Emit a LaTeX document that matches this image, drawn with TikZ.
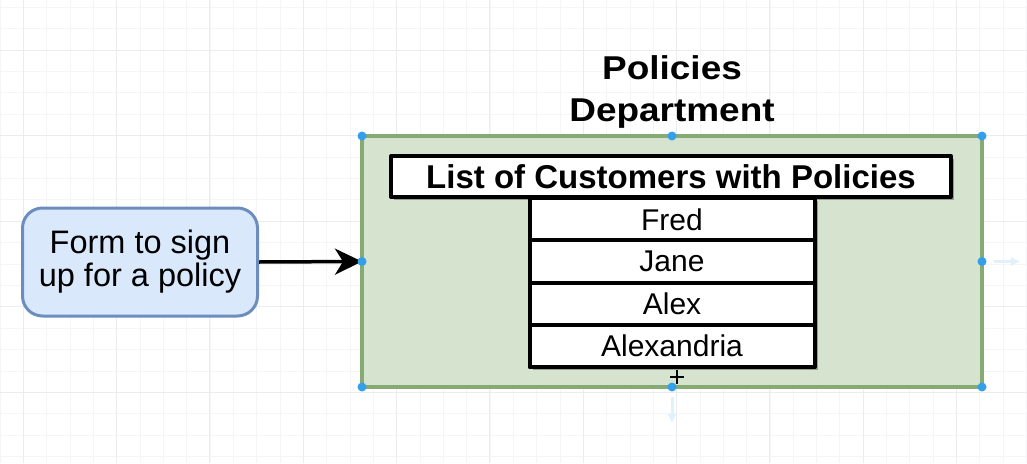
\documentclass[tikz,border=0pt]{standalone}
\usepackage{fontspec}
\setmainfont{Liberation Sans}
\newfontfamily\titlefont[FakeStretch=1.12]{Liberation Sans}
\usetikzlibrary{arrows.meta,shadows}

\definecolor{deptfill}{RGB}{214,227,206}
\definecolor{deptline}{RGB}{133,170,115}
\definecolor{formfill}{RGB}{218,232,252}
\definecolor{formline}{RGB}{108,142,191}
\definecolor{selblue}{RGB}{52,160,235}
\definecolor{gridminor}{RGB}{245,245,247}
\definecolor{gridmajor}{RGB}{236,236,240}

\tikzset{
  deptbox/.style={draw=deptline,fill=deptfill,line width=3.5pt,
    minimum width=620pt,minimum height=251pt,outer sep=0pt},
  formbox/.style={draw=formline,fill=formfill,line width=3pt,rounded corners=20pt,
    minimum width=235pt,minimum height=108pt,align=center,
    font=\fontsize{32.5}{33}\selectfont},
  listhead/.style={draw=black,fill=white,line width=4pt,inner sep=0pt,
    minimum width=560pt,minimum height=41pt,font=\bfseries\fontsize{33}{36}\selectfont,
    drop shadow={shadow xshift=3pt,shadow yshift=-3pt,fill=black,opacity=0.3}},
  listrow/.style={draw=black,fill=white,line width=4pt,inner sep=0pt,
    minimum width=285pt,minimum height=42.3pt,font=\fontsize{30}{33}\selectfont,
    drop shadow={shadow xshift=3pt,shadow yshift=-3pt,fill=black,opacity=0.3}},
  handledot/.style={fill=selblue},
  hint/.style={draw=selblue!15,line width=3pt,-{Latex[length=9pt,width=10pt]}}
}

\begin{document}
\begin{tikzpicture}[x=1pt,y=-1pt,join=round]
  \useasboundingbox (0,0) rectangle (1027,463);
  % grid
  \begin{scope}
    \clip (0,0) rectangle (1027,463);
    \foreach \i in {0,...,44}
      \draw[gridminor,line width=0.8pt] (\i*23.33,0) -- (\i*23.33,463);
    \foreach \j in {-2,...,19}
      \draw[gridminor,line width=0.8pt] (0,50+\j*21.4) -- (1027,50+\j*21.4);
    \foreach \i in {1,5,...,45}
      \draw[gridmajor,line width=1pt] (\i*23.33,0) -- (\i*23.33,463);
    \foreach \j in {0,4,...,16}
      \draw[gridmajor,line width=1pt] (0,50+\j*21.4) -- (1027,50+\j*21.4);
  \end{scope}

  \node[deptbox] (dept) at (672,261.5) {};
  \node[align=center,font=\titlefont\bfseries\fontsize{33}{42}\selectfont] (title) at (672,92) {Policies\\Department};

  \node[listhead] (head) at (671,176.5) {List of Customers with Policies};
  \node[listrow] (fred) at (672,219.3) {Fred};
  \node[listrow] (jane) at (672,261.6) {Jane};
  \node[listrow] (alex) at (672,303.9) {Alex};
  \node[listrow] (alexandria) at (672,346.2) {Alexandria};

  \node[formbox] (form) at (140,262) {Form to sign\\up for a policy};
  \draw[line width=3.5pt,-{Stealth[length=27pt,width=26pt,inset=8pt]}] (form.east) -- (dept.west);

  % selection handles
  \foreach \a in {north west,north,north east,west,east,south west,south,south east}
    \fill[handledot] (dept.\a) circle (4.5pt);
  \draw[hint] ([xshift=12pt]dept.east) -- ++(26,0);
  \draw[hint] ([yshift=-10pt]dept.south) -- ++(0,26);
  \draw[line width=1.2pt] (677,370) -- (677,384) (670,377) -- (684,377);
\end{tikzpicture}
\end{document}
